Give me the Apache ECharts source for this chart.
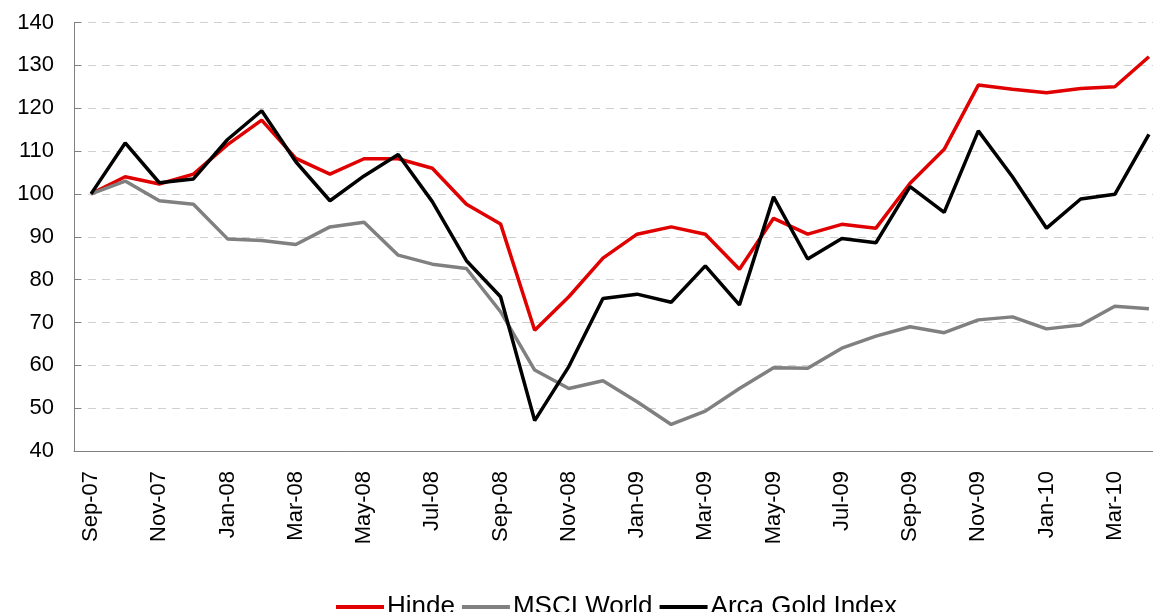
<!doctype html>
<html>
<head>
  <meta charset="utf-8">
  <script src="https://cdn.jsdelivr.net/npm/echarts@6/dist/echarts.min.js"></script>
</head>
<body>
  <style>
    html, body { margin: 0; width: 100%; height: 100%; background: #fff; overflow: hidden; }
    /* the original plot runs a little past the right edge, so the canvas is wider than the window */
    #main { width: 1166px; height: 612px; }
  </style>
  <div id="main"></div>
  <script>
    var months = ['Sep-07', 'Oct-07', 'Nov-07', 'Dec-07', 'Jan-08', 'Feb-08', 'Mar-08', 'Apr-08',
      'May-08', 'Jun-08', 'Jul-08', 'Aug-08', 'Sep-08', 'Oct-08', 'Nov-08', 'Dec-08',
      'Jan-09', 'Feb-09', 'Mar-09', 'Apr-09', 'May-09', 'Jun-09', 'Jul-09', 'Aug-09',
      'Sep-09', 'Oct-09', 'Nov-09', 'Dec-09', 'Jan-10', 'Feb-10', 'Mar-10', 'Apr-10'];
    var hinde = [100, 104.0, 102.3, 104.6, 111.5, 117.2, 108.3, 104.6,
      108.2, 108.2, 106.0, 97.6, 93.0, 68.2, 76.0, 85.0,
      90.6, 92.3, 90.6, 82.4, 94.3, 90.6, 92.9, 92.0,
      102.5, 110.4, 125.4, 124.4, 123.6, 124.6, 125.0, 132.0];
    var msci = [100, 103.0, 98.4, 97.6, 89.5, 89.1, 88.2, 92.3,
      93.4, 85.7, 83.6, 82.6, 72.5, 58.9, 54.6, 56.4,
      51.5, 46.2, 49.3, 54.6, 59.4, 59.3, 64.0, 66.8,
      69.0, 67.6, 70.6, 71.3, 68.5, 69.4, 73.8, 73.2];
    var arca = [100, 111.9, 102.6, 103.5, 112.7, 119.4, 107.5, 98.4,
      104.2, 109.2, 98.2, 84.4, 76.0, 47.1, 59.7, 75.6,
      76.6, 74.7, 83.2, 74.1, 99.3, 84.8, 89.6, 88.6,
      101.7, 95.7, 114.7, 104.0, 92.0, 98.8, 99.9, 113.9];

    var font = 'Liberation Sans, Arial, sans-serif';
    var chart = echarts.init(document.getElementById('main'));

    function lineSeries(name, data, color) {
      return {
        name: name,
        type: 'line',
        data: data,
        symbol: 'none',
        lineStyle: { color: color, width: 3.5 },
        itemStyle: { color: color },
        animation: false
      };
    }

    chart.setOption({
      animation: false,
      textStyle: { fontFamily: font },
      grid: { left: 74, top: 22.5, right: 0, bottom: 161 },
      legend: {
        left: 331,
        top: 589,
        icon: 'rect',
        itemWidth: 48,
        itemHeight: 4,
        itemGap: 7,
        textStyle: { fontFamily: font, fontSize: 26, color: '#000', padding: [0, 0, 0, -2] },
        data: ['Hinde', 'MSCI World', 'Arca Gold Index']
      },
      xAxis: {
        type: 'category',
        data: months,
        boundaryGap: true,
        axisLine: { lineStyle: { color: '#808080', width: 1 } },
        axisTick: { interval: 1, length: 7, lineStyle: { color: '#808080' } },
        axisLabel: {
          interval: 1, rotate: 90, margin: 20,
          fontFamily: font, fontSize: 22, color: '#000'
        },
        splitLine: { show: false }
      },
      yAxis: {
        type: 'value',
        min: 40,
        max: 140,
        interval: 10,
        axisLine: { show: true, lineStyle: { color: '#808080', width: 1 } },
        axisTick: { show: true, inside: true, length: 7, lineStyle: { color: '#808080' } },
        axisLabel: { margin: 20, fontFamily: font, fontSize: 22, color: '#000' },
        splitLine: { lineStyle: { color: '#d0d0d0', width: 1, type: [8, 6] } }
      },
      series: [
        lineSeries('Hinde', hinde, '#e00000'),
        lineSeries('MSCI World', msci, '#808080'),
        lineSeries('Arca Gold Index', arca, '#000000')
      ]
    });
  </script>
</body>
</html>
